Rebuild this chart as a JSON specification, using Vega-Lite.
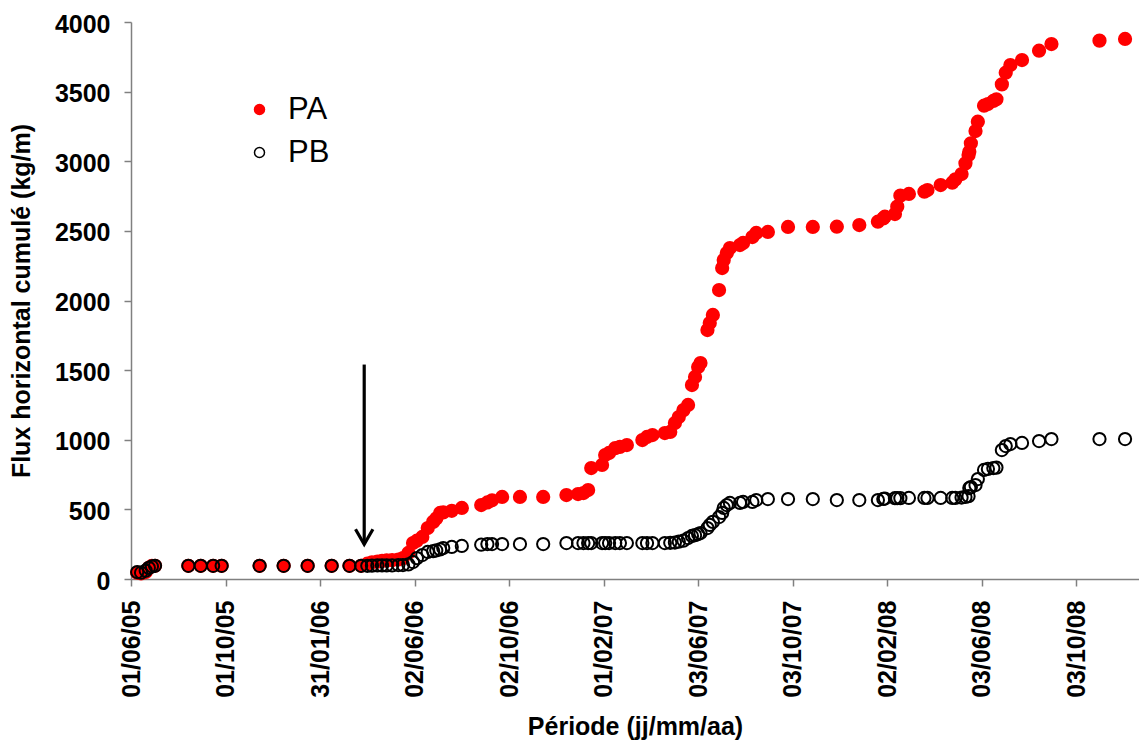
{
  "$schema": "https://vega.github.io/schema/vega-lite/v6.json",
  "width": 1008,
  "height": 557,
  "autosize": {"type": "none"},
  "padding": {"left": 131, "top": 22, "right": 0, "bottom": 163},
  "background": "white",
  "config": {
    "view": {"stroke": null},
    "font": "Liberation Sans",
    "axis": {
      "grid": false,
      "labelFont": "Liberation Sans",
      "labelFontSize": 25,
      "labelFontWeight": "bold",
      "labelColor": "black",
      "titleFont": "Liberation Sans",
      "titleFontSize": 25,
      "titleFontWeight": "bold",
      "titleColor": "black",
      "domainColor": "#808080",
      "domainWidth": 1.5,
      "tickColor": "#808080",
      "tickWidth": 1.5,
      "tickSize": 7,
      "labelPadding": 14,
      "labelFlush": false,
      "labelBound": false,
      "labelOverlap": false
    }
  },
  "layer": [
    {
      "data": {
        "values": [
          {"d": "2005-06-09", "s": "PA", "v": 45},
          {"d": "2005-06-14", "s": "PA", "v": 40},
          {"d": "2005-06-20", "s": "PA", "v": 50},
          {"d": "2005-06-24", "s": "PA", "v": 80},
          {"d": "2005-06-28", "s": "PA", "v": 95},
          {"d": "2005-07-02", "s": "PA", "v": 95},
          {"d": "2005-08-14", "s": "PA", "v": 95},
          {"d": "2005-08-30", "s": "PA", "v": 95},
          {"d": "2005-09-15", "s": "PA", "v": 95},
          {"d": "2005-09-26", "s": "PA", "v": 95},
          {"d": "2005-11-14", "s": "PA", "v": 95},
          {"d": "2005-12-15", "s": "PA", "v": 95},
          {"d": "2006-01-15", "s": "PA", "v": 95},
          {"d": "2006-02-15", "s": "PA", "v": 95},
          {"d": "2006-03-10", "s": "PA", "v": 95},
          {"d": "2006-03-25", "s": "PA", "v": 95},
          {"d": "2006-04-02", "s": "PA", "v": 110},
          {"d": "2006-04-08", "s": "PA", "v": 120},
          {"d": "2006-04-15", "s": "PA", "v": 125},
          {"d": "2006-04-21", "s": "PA", "v": 130},
          {"d": "2006-04-27", "s": "PA", "v": 133},
          {"d": "2006-05-04", "s": "PA", "v": 135},
          {"d": "2006-05-12", "s": "PA", "v": 140},
          {"d": "2006-05-18", "s": "PA", "v": 150},
          {"d": "2006-05-25", "s": "PA", "v": 187},
          {"d": "2006-05-31", "s": "PA", "v": 258},
          {"d": "2006-06-05", "s": "PA", "v": 275},
          {"d": "2006-06-12", "s": "PA", "v": 302},
          {"d": "2006-06-19", "s": "PA", "v": 366},
          {"d": "2006-06-26", "s": "PA", "v": 410},
          {"d": "2006-06-30", "s": "PA", "v": 435},
          {"d": "2006-07-05", "s": "PA", "v": 474},
          {"d": "2006-07-09", "s": "PA", "v": 478},
          {"d": "2006-07-20", "s": "PA", "v": 490},
          {"d": "2006-08-02", "s": "PA", "v": 510},
          {"d": "2006-08-27", "s": "PA", "v": 531},
          {"d": "2006-09-04", "s": "PA", "v": 550},
          {"d": "2006-09-10", "s": "PA", "v": 565},
          {"d": "2006-09-23", "s": "PA", "v": 589},
          {"d": "2006-10-16", "s": "PA", "v": 589},
          {"d": "2006-11-15", "s": "PA", "v": 589},
          {"d": "2006-12-15", "s": "PA", "v": 603},
          {"d": "2006-12-30", "s": "PA", "v": 610},
          {"d": "2007-01-06", "s": "PA", "v": 617},
          {"d": "2007-01-12", "s": "PA", "v": 639},
          {"d": "2007-01-16", "s": "PA", "v": 797},
          {"d": "2007-01-30", "s": "PA", "v": 819},
          {"d": "2007-02-03", "s": "PA", "v": 890},
          {"d": "2007-02-08", "s": "PA", "v": 905},
          {"d": "2007-02-16", "s": "PA", "v": 940},
          {"d": "2007-02-22", "s": "PA", "v": 948},
          {"d": "2007-03-03", "s": "PA", "v": 962},
          {"d": "2007-03-23", "s": "PA", "v": 998},
          {"d": "2007-03-29", "s": "PA", "v": 1020},
          {"d": "2007-04-05", "s": "PA", "v": 1034},
          {"d": "2007-04-21", "s": "PA", "v": 1048},
          {"d": "2007-04-28", "s": "PA", "v": 1056},
          {"d": "2007-05-04", "s": "PA", "v": 1120},
          {"d": "2007-05-09", "s": "PA", "v": 1163},
          {"d": "2007-05-15", "s": "PA", "v": 1213},
          {"d": "2007-05-21", "s": "PA", "v": 1250},
          {"d": "2007-05-26", "s": "PA", "v": 1393},
          {"d": "2007-05-30", "s": "PA", "v": 1451},
          {"d": "2007-06-03", "s": "PA", "v": 1522},
          {"d": "2007-06-06", "s": "PA", "v": 1551},
          {"d": "2007-06-15", "s": "PA", "v": 1788},
          {"d": "2007-06-18", "s": "PA", "v": 1838},
          {"d": "2007-06-22", "s": "PA", "v": 1896},
          {"d": "2007-06-30", "s": "PA", "v": 2075},
          {"d": "2007-07-04", "s": "PA", "v": 2233},
          {"d": "2007-07-06", "s": "PA", "v": 2291},
          {"d": "2007-07-10", "s": "PA", "v": 2341},
          {"d": "2007-07-14", "s": "PA", "v": 2377},
          {"d": "2007-07-27", "s": "PA", "v": 2398},
          {"d": "2007-07-31", "s": "PA", "v": 2413},
          {"d": "2007-08-12", "s": "PA", "v": 2456},
          {"d": "2007-08-17", "s": "PA", "v": 2485},
          {"d": "2007-09-01", "s": "PA", "v": 2492},
          {"d": "2007-09-27", "s": "PA", "v": 2528},
          {"d": "2007-10-29", "s": "PA", "v": 2528},
          {"d": "2007-11-29", "s": "PA", "v": 2530},
          {"d": "2007-12-28", "s": "PA", "v": 2542},
          {"d": "2008-01-21", "s": "PA", "v": 2566},
          {"d": "2008-01-28", "s": "PA", "v": 2590},
          {"d": "2008-01-30", "s": "PA", "v": 2602},
          {"d": "2008-02-12", "s": "PA", "v": 2621},
          {"d": "2008-02-15", "s": "PA", "v": 2674},
          {"d": "2008-02-19", "s": "PA", "v": 2753},
          {"d": "2008-03-01", "s": "PA", "v": 2765},
          {"d": "2008-03-21", "s": "PA", "v": 2781},
          {"d": "2008-03-25", "s": "PA", "v": 2793},
          {"d": "2008-04-11", "s": "PA", "v": 2829},
          {"d": "2008-04-26", "s": "PA", "v": 2846},
          {"d": "2008-04-30", "s": "PA", "v": 2870},
          {"d": "2008-05-08", "s": "PA", "v": 2908},
          {"d": "2008-05-13", "s": "PA", "v": 2985},
          {"d": "2008-05-17", "s": "PA", "v": 3045},
          {"d": "2008-05-18", "s": "PA", "v": 3068},
          {"d": "2008-05-20", "s": "PA", "v": 3129},
          {"d": "2008-05-26", "s": "PA", "v": 3217},
          {"d": "2008-05-29", "s": "PA", "v": 3284},
          {"d": "2008-06-06", "s": "PA", "v": 3399},
          {"d": "2008-06-11", "s": "PA", "v": 3411},
          {"d": "2008-06-18", "s": "PA", "v": 3433},
          {"d": "2008-06-22", "s": "PA", "v": 3445},
          {"d": "2008-06-29", "s": "PA", "v": 3552},
          {"d": "2008-07-04", "s": "PA", "v": 3636},
          {"d": "2008-07-10", "s": "PA", "v": 3691},
          {"d": "2008-07-25", "s": "PA", "v": 3727},
          {"d": "2008-08-16", "s": "PA", "v": 3794},
          {"d": "2008-09-01", "s": "PA", "v": 3842},
          {"d": "2008-11-02", "s": "PA", "v": 3866},
          {"d": "2008-12-05", "s": "PA", "v": 3878},
          {"d": "2005-06-09", "s": "PB", "v": 50},
          {"d": "2005-06-14", "s": "PB", "v": 45},
          {"d": "2005-06-20", "s": "PB", "v": 60},
          {"d": "2005-06-24", "s": "PB", "v": 80},
          {"d": "2005-06-28", "s": "PB", "v": 90},
          {"d": "2005-07-02", "s": "PB", "v": 95},
          {"d": "2005-08-14", "s": "PB", "v": 95},
          {"d": "2005-08-30", "s": "PB", "v": 95},
          {"d": "2005-09-15", "s": "PB", "v": 95},
          {"d": "2005-09-26", "s": "PB", "v": 95},
          {"d": "2005-11-14", "s": "PB", "v": 95},
          {"d": "2005-12-15", "s": "PB", "v": 95},
          {"d": "2006-01-15", "s": "PB", "v": 95},
          {"d": "2006-02-15", "s": "PB", "v": 95},
          {"d": "2006-03-10", "s": "PB", "v": 95},
          {"d": "2006-03-25", "s": "PB", "v": 95},
          {"d": "2006-04-02", "s": "PB", "v": 95},
          {"d": "2006-04-08", "s": "PB", "v": 96},
          {"d": "2006-04-15", "s": "PB", "v": 97},
          {"d": "2006-04-21", "s": "PB", "v": 97},
          {"d": "2006-04-27", "s": "PB", "v": 98},
          {"d": "2006-05-04", "s": "PB", "v": 98},
          {"d": "2006-05-12", "s": "PB", "v": 100},
          {"d": "2006-05-18", "s": "PB", "v": 100},
          {"d": "2006-05-25", "s": "PB", "v": 105},
          {"d": "2006-05-31", "s": "PB", "v": 122},
          {"d": "2006-06-05", "s": "PB", "v": 150},
          {"d": "2006-06-12", "s": "PB", "v": 172},
          {"d": "2006-06-19", "s": "PB", "v": 194},
          {"d": "2006-06-26", "s": "PB", "v": 200},
          {"d": "2006-06-30", "s": "PB", "v": 205},
          {"d": "2006-07-05", "s": "PB", "v": 212},
          {"d": "2006-07-09", "s": "PB", "v": 222},
          {"d": "2006-07-20", "s": "PB", "v": 230},
          {"d": "2006-08-02", "s": "PB", "v": 237},
          {"d": "2006-08-27", "s": "PB", "v": 246},
          {"d": "2006-09-04", "s": "PB", "v": 251},
          {"d": "2006-09-10", "s": "PB", "v": 251},
          {"d": "2006-09-23", "s": "PB", "v": 251},
          {"d": "2006-10-16", "s": "PB", "v": 251},
          {"d": "2006-11-15", "s": "PB", "v": 251},
          {"d": "2006-12-15", "s": "PB", "v": 258},
          {"d": "2006-12-30", "s": "PB", "v": 258},
          {"d": "2007-01-06", "s": "PB", "v": 258},
          {"d": "2007-01-12", "s": "PB", "v": 258},
          {"d": "2007-01-16", "s": "PB", "v": 258},
          {"d": "2007-01-30", "s": "PB", "v": 258},
          {"d": "2007-02-03", "s": "PB", "v": 258},
          {"d": "2007-02-08", "s": "PB", "v": 258},
          {"d": "2007-02-16", "s": "PB", "v": 258},
          {"d": "2007-02-22", "s": "PB", "v": 258},
          {"d": "2007-03-03", "s": "PB", "v": 258},
          {"d": "2007-03-23", "s": "PB", "v": 258},
          {"d": "2007-03-29", "s": "PB", "v": 258},
          {"d": "2007-04-05", "s": "PB", "v": 258},
          {"d": "2007-04-21", "s": "PB", "v": 258},
          {"d": "2007-04-28", "s": "PB", "v": 260},
          {"d": "2007-05-04", "s": "PB", "v": 262},
          {"d": "2007-05-09", "s": "PB", "v": 268},
          {"d": "2007-05-15", "s": "PB", "v": 275},
          {"d": "2007-05-21", "s": "PB", "v": 294},
          {"d": "2007-05-26", "s": "PB", "v": 309},
          {"d": "2007-05-30", "s": "PB", "v": 315},
          {"d": "2007-06-03", "s": "PB", "v": 323},
          {"d": "2007-06-06", "s": "PB", "v": 330},
          {"d": "2007-06-15", "s": "PB", "v": 366},
          {"d": "2007-06-18", "s": "PB", "v": 388},
          {"d": "2007-06-22", "s": "PB", "v": 410},
          {"d": "2007-06-30", "s": "PB", "v": 445},
          {"d": "2007-07-04", "s": "PB", "v": 474},
          {"d": "2007-07-06", "s": "PB", "v": 510},
          {"d": "2007-07-10", "s": "PB", "v": 531},
          {"d": "2007-07-14", "s": "PB", "v": 546},
          {"d": "2007-07-27", "s": "PB", "v": 546},
          {"d": "2007-07-31", "s": "PB", "v": 553},
          {"d": "2007-08-12", "s": "PB", "v": 553},
          {"d": "2007-08-17", "s": "PB", "v": 567},
          {"d": "2007-09-01", "s": "PB", "v": 574},
          {"d": "2007-09-27", "s": "PB", "v": 574},
          {"d": "2007-10-29", "s": "PB", "v": 574},
          {"d": "2007-11-29", "s": "PB", "v": 567},
          {"d": "2007-12-28", "s": "PB", "v": 567},
          {"d": "2008-01-21", "s": "PB", "v": 567},
          {"d": "2008-01-28", "s": "PB", "v": 575},
          {"d": "2008-01-30", "s": "PB", "v": 578},
          {"d": "2008-02-12", "s": "PB", "v": 580},
          {"d": "2008-02-15", "s": "PB", "v": 580},
          {"d": "2008-02-19", "s": "PB", "v": 580},
          {"d": "2008-03-01", "s": "PB", "v": 582},
          {"d": "2008-03-21", "s": "PB", "v": 582},
          {"d": "2008-03-25", "s": "PB", "v": 582},
          {"d": "2008-04-11", "s": "PB", "v": 582},
          {"d": "2008-04-26", "s": "PB", "v": 582},
          {"d": "2008-04-30", "s": "PB", "v": 582},
          {"d": "2008-05-08", "s": "PB", "v": 585},
          {"d": "2008-05-13", "s": "PB", "v": 589},
          {"d": "2008-05-17", "s": "PB", "v": 595},
          {"d": "2008-05-18", "s": "PB", "v": 653},
          {"d": "2008-05-20", "s": "PB", "v": 660},
          {"d": "2008-05-26", "s": "PB", "v": 675},
          {"d": "2008-05-29", "s": "PB", "v": 718},
          {"d": "2008-06-06", "s": "PB", "v": 783},
          {"d": "2008-06-11", "s": "PB", "v": 790},
          {"d": "2008-06-18", "s": "PB", "v": 797},
          {"d": "2008-06-22", "s": "PB", "v": 800},
          {"d": "2008-06-29", "s": "PB", "v": 926},
          {"d": "2008-07-04", "s": "PB", "v": 955},
          {"d": "2008-07-10", "s": "PB", "v": 969},
          {"d": "2008-07-25", "s": "PB", "v": 977},
          {"d": "2008-08-16", "s": "PB", "v": 991},
          {"d": "2008-09-01", "s": "PB", "v": 1005},
          {"d": "2008-11-02", "s": "PB", "v": 1005},
          {"d": "2008-12-05", "s": "PB", "v": 1005}
        ]
      },
      "mark": {"type": "circle", "size": 150, "strokeWidth": 2, "opacity": 1},
      "encoding": {
        "x": {
          "field": "d",
          "type": "temporal",
          "title": "Période (jj/mm/aa)",
          "scale": {
            "type": "utc",
            "domain": [
              {"year": 2005, "month": 6, "date": 1, "utc": true},
              {"year": 2008, "month": 12, "date": 23, "utc": true}
            ]
          },
          "axis": {
            "values": [
              {"year": 2005, "month": 6, "date": 1, "utc": true},
              {"year": 2005, "month": 10, "date": 1, "utc": true},
              {"year": 2006, "month": 1, "date": 31, "utc": true},
              {"year": 2006, "month": 6, "date": 2, "utc": true},
              {"year": 2006, "month": 10, "date": 2, "utc": true},
              {"year": 2007, "month": 2, "date": 1, "utc": true},
              {"year": 2007, "month": 6, "date": 3, "utc": true},
              {"year": 2007, "month": 10, "date": 3, "utc": true},
              {"year": 2008, "month": 2, "date": 2, "utc": true},
              {"year": 2008, "month": 6, "date": 3, "utc": true},
              {"year": 2008, "month": 10, "date": 3, "utc": true}
            ],
            "format": "%d/%m/%y",
            "labelAngle": -90,
            "titlePadding": 17
          }
        },
        "y": {
          "field": "v",
          "type": "quantitative",
          "title": "Flux horizontal cumulé (kg/m)",
          "scale": {"domain": [0, 4000], "nice": false, "zero": true},
          "axis": {
            "values": [0, 500, 1000, 1500, 2000, 2500, 3000, 3500, 4000],
            "format": "d",
            "titlePadding": 20,
            "labelOffset": 2
          }
        },
        "fill": {
          "field": "s",
          "type": "nominal",
          "scale": {"domain": ["PA", "PB"], "range": ["#ff0000", "transparent"]},
          "legend": {
            "orient": "none",
            "legendX": 113,
            "legendY": 72,
            "title": null,
            "padding": 0,
            "labelFont": "Liberation Sans",
            "labelFontSize": 31,
            "labelFontWeight": "normal",
            "labelColor": "black",
            "labelOffset": 13,
            "rowPadding": 11,
            "symbolSize": 100,
            "symbolStrokeWidth": 1.5,
            "symbolType": "circle",
            "symbolOpacity": 1
          }
        },
        "stroke": {
          "field": "s",
          "type": "nominal",
          "scale": {"domain": ["PA", "PB"], "range": ["#ff0000", "#000000"]}
        }
      }
    },
    {
      "data": {"values": [{"d": "2006-03-29", "top": 1540, "tip": 250}]},
      "layer": [
        {
          "mark": {"type": "rule", "strokeWidth": 3.2, "color": "black"},
          "encoding": {
            "x": {"field": "d", "type": "temporal", "title": "Période (jj/mm/aa)"},
            "y": {"field": "top", "type": "quantitative", "title": "Flux horizontal cumulé (kg/m)"},
            "y2": {"field": "tip"}
          }
        },
        {
          "mark": {"type": "point", "shape": "M -0.58 -1 L 0 0 L 0.58 -1", "size": 900, "strokeWidth": 3.2, "color": "black", "filled": false, "opacity": 1},
          "encoding": {
            "x": {"field": "d", "type": "temporal", "title": "Période (jj/mm/aa)"},
            "y": {"field": "tip", "type": "quantitative", "title": "Flux horizontal cumulé (kg/m)"}
          }
        }
      ]
    }
  ]
}
